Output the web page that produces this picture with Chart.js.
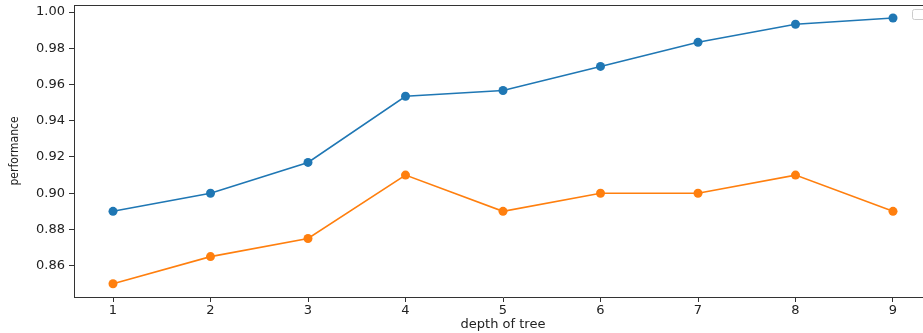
<!DOCTYPE html>
<html>
<head>
<meta charset="utf-8">
<script src="https://cdn.jsdelivr.net/npm/chart.js@4"></script>
<style>
  html, body { margin: 0; padding: 0; background: #fff; overflow: hidden; }
  #wrap { width: 923px; height: 333px; overflow: hidden; }
</style>
</head>
<body>
<div id="wrap"><canvas id="chart" width="960" height="333"></canvas></div>
<script>
const depths = [1, 2, 3, 4, 5, 6, 7, 8, 9];
const trainScores = [0.89, 0.90, 0.917, 0.9535, 0.9567, 0.970, 0.9833, 0.9933, 0.9967];
const testScores = [0.85, 0.865, 0.875, 0.91, 0.89, 0.90, 0.90, 0.91, 0.89];
const yTickValues = [0.86, 0.88, 0.90, 0.92, 0.94, 0.96, 0.98, 1.00];
const xTickValues = [1, 2, 3, 4, 5, 6, 7, 8, 9];

const toPoints = (vals) => vals.map((v, i) => ({ x: depths[i], y: v }));

// top spine + empty legend box (matplotlib look)
const framePlugin = {
  id: "frame",
  afterDraw(chart) {
    const { ctx, chartArea } = chart;
    ctx.save();
    ctx.strokeStyle = "#333";
    ctx.lineWidth = 1;
    ctx.beginPath();
    ctx.moveTo(chartArea.left, chartArea.top + 0.5);
    ctx.lineTo(chartArea.right, chartArea.top + 0.5);
    ctx.stroke();
    ctx.strokeStyle = "#ccc";
    ctx.beginPath();
    ctx.roundRect(912.5, 9.5, 24, 10, 2);
    ctx.stroke();
    ctx.restore();
  },
};

const tickFont = { family: "DejaVu Sans", size: 13 };

new Chart(document.getElementById("chart"), {
  type: "line",
  data: {
    datasets: [
      {
        data: toPoints(trainScores),
        borderColor: "#1f77b4",
        backgroundColor: "#1f77b4",
        borderWidth: 1.6,
        pointRadius: 4.5,
        pointBorderWidth: 0,
        tension: 0,
      },
      {
        data: toPoints(testScores),
        borderColor: "#ff7f0e",
        backgroundColor: "#ff7f0e",
        borderWidth: 1.6,
        pointRadius: 4.5,
        pointBorderWidth: 0,
        tension: 0,
      },
    ],
  },
  options: {
    responsive: false,
    animation: false,
    layout: { padding: { top: 5, right: 28, left: 0, bottom: 0 } },
    plugins: {
      legend: { display: false },
      tooltip: { enabled: false },
    },
    scales: {
      x: {
        type: "linear",
        min: 0.6,
        max: 9.4,
        afterBuildTicks: (scale) => {
          scale.ticks = xTickValues.map((v) => ({ value: v }));
        },
        afterFit: (scale) => {
          scale.height = 36;
          scale.paddingLeft = 0;
          scale.paddingRight = 0;
        },
        grid: { drawOnChartArea: false, drawTicks: true, tickLength: 5, color: "#333" },
        border: { color: "#333" },
        ticks: { color: "#222", font: tickFont, padding: 1, maxRotation: 0 },
        title: {
          display: true,
          text: "depth of tree",
          color: "#222",
          font: { family: "DejaVu Sans", size: 13 },
          padding: { top: 0, bottom: 1 },
        },
      },
      y: {
        min: 0.8427,
        max: 1.0039,
        afterBuildTicks: (scale) => {
          scale.ticks = yTickValues.map((v) => ({ value: v }));
        },
        afterFit: (scale) => {
          scale.width = 74;
          scale.paddingTop = 0;
          scale.paddingBottom = 0;
        },
        grid: { drawOnChartArea: false, drawTicks: true, tickLength: 5, color: "#333" },
        border: { color: "#333" },
        ticks: {
          color: "#222",
          font: tickFont,
          padding: 4,
          callback: (v) => v.toFixed(2),
        },
        title: {
          display: true,
          text: "performance",
          color: "#222",
          font: { family: "DejaVu Sans Condensed", size: 12 },
          padding: { top: 8, bottom: 0 },
        },
      },
    },
  },
  plugins: [framePlugin],
});
</script>
</body>
</html>
